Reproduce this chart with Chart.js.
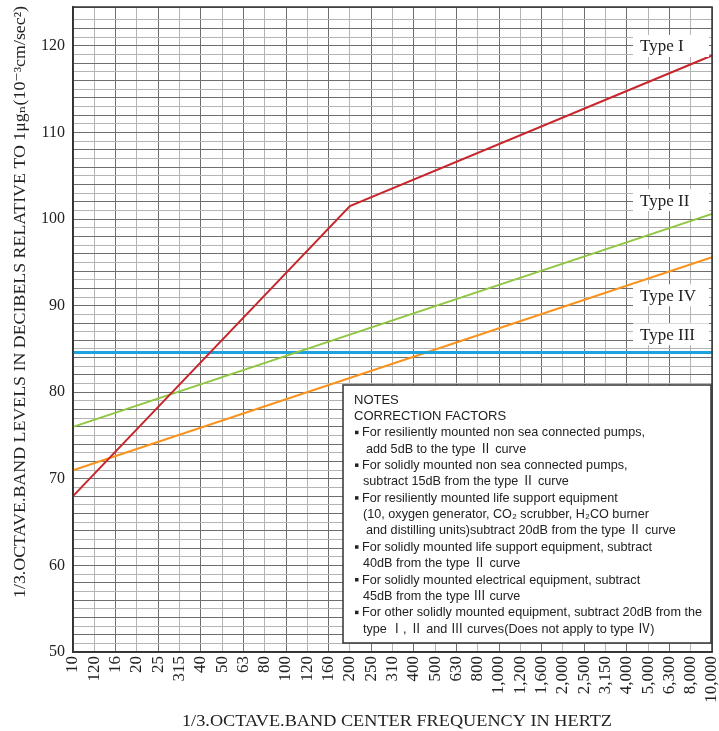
<!DOCTYPE html>
<html>
<head>
<meta charset="utf-8">
<script src="https://cdn.jsdelivr.net/npm/chart.js@4.4.1/dist/chart.umd.min.js"></script>
<style>
  body { margin: 0; background: #fff; }
  canvas { display: block; }
</style>
</head>
<body>
<canvas id="chart" width="719" height="731"></canvas>
<script>
// 1/3 octave band centre frequencies (labels as printed)
const freqLabels = ['10', '120', '16', '20', '25', '315', '40', '50', '63', '80',
  '100', '120', '160', '200', '250', '310', '400', '500', '630', '800',
  '1,000', '1,200', '1,600', '2,000', '2,500', '3,150', '4,000', '5,000', '6,300', '8,000', '10,000'];

// curves are straight segments; only the break points are given
const typeI = [68, null, null, null, null, null, null, null, null, null, null, null, null, 101.5,
  null, null, null, null, null, null, null, null, null, null, null, null, null, null, null, null, 118.9];
const typeII = [76, null, null, null, null, null, null, null, null, null, null, null, null, null,
  null, null, null, null, null, null, null, null, null, null, null, null, null, null, null, null, 100.6];
const typeIII = [84.6, null, null, null, null, null, null, null, null, null, null, null, null, null,
  null, null, null, null, null, null, null, null, null, null, null, null, null, null, null, null, 84.6];
const typeIV = [71, null, null, null, null, null, null, null, null, null, null, null, null, null,
  null, null, null, null, null, null, null, null, null, null, null, null, null, null, null, null, 95.6];

const typeNames = ['Type I', 'Type II', 'Type IV', 'Type III'];
const typeNameAt = [120, 102.2, 91.2, 86.7];

const yTitle = '1/3.OCTAVE.BAND LEVELS IN DECIBELS RELATIVE TO 1\u03bcg\u2099(10\u207b\u00b3cm/sec\u00b2)';
const xTitle = '1/3.OCTAVE.BAND CENTER FREQUENCY IN HERTZ';

const notes = [
  ['', 'NOTES'],
  ['', 'CORRECTION FACTORS'],
  ['b', 'For resiliently mounted non sea connected pumps,'],
  ['c2', 'add 5dB to the type \u2161 curve'],
  ['b', 'For solidly mounted non sea connected pumps,'],
  ['c', 'subtract 15dB from the type \u2161 curve'],
  ['b', 'For resiliently mounted life support equipment'],
  ['c', '(10, oxygen generator, CO\u2082 scrubber, H\u2082CO burner'],
  ['c2', 'and distilling units)subtract 20dB from the type \u2161 curve'],
  ['b', 'For solidly mounted life support equipment, subtract'],
  ['c', '40dB from the type \u2161 curve'],
  ['b', 'For solidly mounted electrical equipment, subtract'],
  ['c', '45dB from the type \u2162 curve'],
  ['b', 'For other solidly mounted equipment, subtract 20dB from the'],
  ['c', 'type \u2160, \u2161 and \u2162 curves(Does not apply to type \u2163)']
];

const serif = '"Liberation Serif", "DejaVu Serif", serif';

// titles, frame, type tags and the notes box
const extras = {
  id: 'extras',
  afterDatasetsDraw(chart) {
    const c = chart.ctx;
    const a = chart.chartArea;
    const y = chart.scales.y;

    c.save();
    c.strokeStyle = '#333';
    c.lineWidth = 1.5;
    c.strokeRect(a.left, a.top, a.right - a.left, a.bottom - a.top);

    // type tags
    c.font = '17px ' + serif;
    c.textBaseline = 'middle';
    typeNames.forEach((t, i) => {
      const py = y.getPixelForValue(typeNameAt[i]);
      c.fillStyle = '#fff';
      c.fillRect(633, py - 11, 76, 22);
      c.fillStyle = '#222';
      c.fillText(t, 640, py + 1);
    });

    // notes box
    c.fillStyle = '#fff';
    c.fillRect(343, 385, 368, 258);
    c.strokeStyle = '#333';
    c.lineWidth = 1.5;
    c.strokeRect(343, 385, 368, 258);
    c.font = '13px "Liberation Sans", "Noto Sans CJK KR", sans-serif';
    const longest = c.measureText(notes[13][1]).width;
    const sx = 340 / longest;
    c.fillStyle = '#222';
    notes.forEach((n, i) => {
      const py = 400 + i * 16.36;
      let px = 354;
      if (n[0] === 'b') {
        c.fillRect(355, py - 2, 3.5, 3.5);
        px = 362;
      } else if (n[0] === 'c') {
        px = 363;
      } else if (n[0] === 'c2') {
        px = 366;
      }
      c.save();
      c.translate(px, py);
      c.scale(n[0] === '' ? 1 : sx, 1);
      c.fillText(n[1], 0, 0);
      c.restore();
    });

    // axis titles
    c.fillStyle = '#222';
    c.textBaseline = 'alphabetic';
    c.textAlign = 'left';
    c.font = '17px ' + serif;
    let w = c.measureText(xTitle).width;
    c.save();
    c.translate(182, 726);
    c.scale(430 / w, 1);
    c.fillText(xTitle, 0, 0);
    c.restore();

    c.font = '16px ' + serif;
    w = c.measureText(yTitle).width;
    c.save();
    c.translate(25, 598);
    c.rotate(-Math.PI / 2);
    c.scale(592 / w, 1);
    c.fillText(yTitle, 0, 0);
    c.restore();
    c.restore();
  }
};

const gridShade = (ctx) => (ctx.index % 2 === 0 ? '#6e6e6e' : '#b4b4b4');
const noPad = (s) => { s.paddingLeft = 0; s.paddingRight = 0; s.paddingTop = 0; s.paddingBottom = 0; };

new Chart(document.getElementById('chart'), {
  type: 'line',
  data: {
    labels: freqLabels,
    datasets: [
      { label: 'Type I', data: typeI, borderColor: '#c9252c', borderWidth: 2 },
      { label: 'Type II', data: typeII, borderColor: '#8dc63f', borderWidth: 2 },
      { label: 'Type III', data: typeIII, borderColor: '#1fa3dd', borderWidth: 3 },
      { label: 'Type IV', data: typeIV, borderColor: '#f7941d', borderWidth: 2 }
    ]
  },
  options: {
    responsive: false,
    animation: false,
    spanGaps: true,
    elements: { point: { radius: 0 }, line: { tension: 0 } },
    layout: { padding: { top: 7, right: 7, left: 0, bottom: 0 } },
    plugins: { legend: { display: false }, tooltip: { enabled: false } },
    scales: {
      x: {
        grid: { color: gridShade, lineWidth: 1, drawTicks: false },
        border: { color: '#333', width: 1.5 },
        ticks: {
          autoSkip: false, minRotation: 90, maxRotation: 90, padding: 4,
          color: '#222', font: { family: serif, size: 17 }
        },
        afterFit(s) { s.height = 79; noPad(s); }
      },
      y: {
        min: 50,
        max: 124.5,
        grid: { color: gridShade, lineWidth: 1, drawTicks: false },
        border: { color: '#333', width: 1.5 },
        ticks: {
          stepSize: 1, autoSkip: false, padding: 8, color: '#222',
          font: { family: serif, size: 16 },
          callback: (v) => (v % 10 === 0 ? v : '')
        },
        afterFit(s) { s.width = 73; noPad(s); }
      }
    }
  },
  plugins: [extras]
});
</script>
</body>
</html>
